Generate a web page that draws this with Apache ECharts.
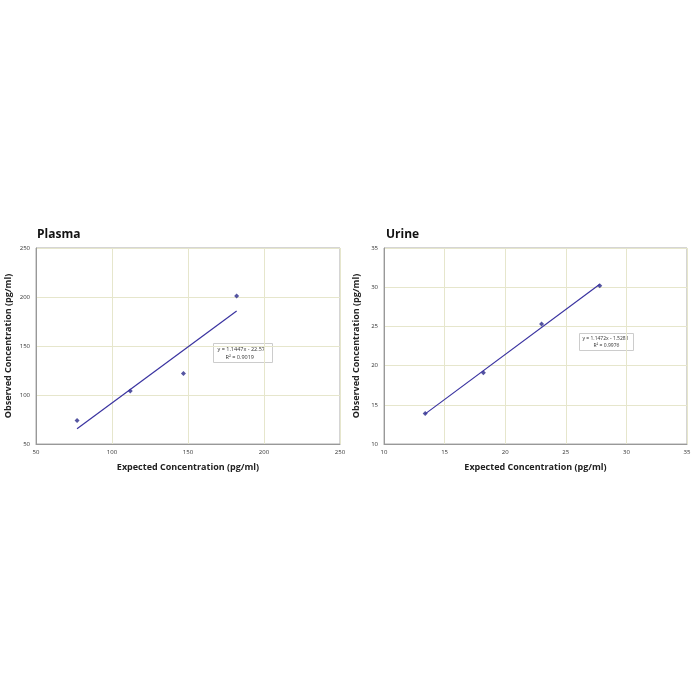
<!DOCTYPE html>
<html><head><meta charset="utf-8">
<script src="https://cdn.jsdelivr.net/npm/echarts@6/dist/echarts.min.js"></script>
<style>html,body{margin:0;background:#fff}#c{width:700px;height:700px}</style>
</head><body><div id="c"></div>
<script>
const plasmaX = [77, 112, 147, 182];
const plasmaY = [74, 104, 122, 201];
const plasmaFit = [1.1447, -22.57];
const urineX = [13.4, 18.2, 23.0, 27.8];
const urineY = [13.9, 19.1, 25.3, 30.2];
const urineFit = [1.1472, -1.5281];
const plasmaTicks = [50, 100, 150, 200, 250];
const urineTicks = [10, 15, 20, 25, 30, 35];

const chart = echarts.init(document.getElementById('c'));
const font = 'Open Sans';
function axis(gi, ticks, name, isX) {
  return {
    type: 'value', gridIndex: gi, min: ticks[0], max: ticks[ticks.length-1],
    interval: ticks[1]-ticks[0], name: name, nameLocation: 'middle',
    nameGap: isX ? 19 : 23,
    nameTextStyle: {fontFamily: font, fontWeight: 'bold', fontSize: 9, color: '#222'},
    axisLine: {show: true, lineStyle: {color: '#999'}},
    axisTick: {show: false},
    axisLabel: {fontSize: 6, color: '#333', fontFamily: font, margin: isX ? 5 : 6},
    splitLine: {show: true, lineStyle: {color: '#e6e6cc', width: 1}}
  };
}
const pts = (xs, ys) => xs.map((x, i) => [x, ys[i]]);
const fit = (xs, f) => [[xs[0], f[0]*xs[0]+f[1]], [xs[xs.length-1], f[0]*xs[xs.length-1]+f[1]]];
chart.setOption({
  animation: false,
  title: [
    {text: 'Plasma', left: 32, top: 224, textStyle: {fontFamily: font, fontWeight: 'bold', fontSize: 12, color: '#111'}},
    {text: 'Urine', left: 381, top: 224, textStyle: {fontFamily: font, fontWeight: 'bold', fontSize: 12, color: '#111'}}
  ],
  grid: [
    {left: 36, top: 248, width: 304, height: 196, show: true, borderColor: '#aaa', borderWidth: 1},
    {left: 384, top: 248, width: 303, height: 196, show: true, borderColor: '#aaa', borderWidth: 1}
  ],
  xAxis: [axis(0, plasmaTicks, 'Expected Concentration (pg/ml)', true), axis(1, urineTicks, 'Expected Concentration (pg/ml)', true)],
  yAxis: [axis(0, plasmaTicks, 'Observed Concentration (pg/ml)', false), axis(1, urineTicks, 'Observed Concentration (pg/ml)', false)],
  series: [
    {type: 'line', xAxisIndex: 0, yAxisIndex: 0, data: fit(plasmaX, plasmaFit), symbol: 'none', lineStyle: {color: '#3a33a0', width: 1.2}},
    {type: 'scatter', xAxisIndex: 0, yAxisIndex: 0, data: pts(plasmaX, plasmaY), symbol: 'diamond', symbolSize: 5, itemStyle: {color: '#2a2a8a'}},
    {type: 'line', xAxisIndex: 1, yAxisIndex: 1, data: fit(urineX, urineFit), symbol: 'none', lineStyle: {color: '#3a33a0', width: 1.2}},
    {type: 'scatter', xAxisIndex: 1, yAxisIndex: 1, data: pts(urineX, urineY), symbol: 'diamond', symbolSize: 5, itemStyle: {color: '#2a2a8a'}}
  ],
  graphic: [
    {type: 'group', left: 213, top: 343, children: [
      {type: 'rect', shape: {x: 0, y: 0, width: 59, height: 19}, style: {fill: '#fff', stroke: '#ccc', lineWidth: 1}},
      {type: 'text', x: 4, y: 3, style: {text: 'y = 1.1447x - 22.57', fontSize: 5.5, fontFamily: font, fill: '#333'}},
      {type: 'text', x: 12, y: 11, style: {text: 'R² = 0.9019', fontSize: 5.5, fontFamily: font, fill: '#333'}}
    ]},
    {type: 'group', left: 579, top: 333, children: [
      {type: 'rect', shape: {x: 0, y: 0, width: 54, height: 17}, style: {fill: '#fff', stroke: '#ccc', lineWidth: 1}},
      {type: 'text', x: 3, y: 3, style: {text: 'y = 1.1472x - 1.5281', fontSize: 5, fontFamily: font, fill: '#333'}},
      {type: 'text', x: 14, y: 10, style: {text: 'R² = 0.9976', fontSize: 5, fontFamily: font, fill: '#333'}}
    ]}
  ]
});
</script></body></html>
